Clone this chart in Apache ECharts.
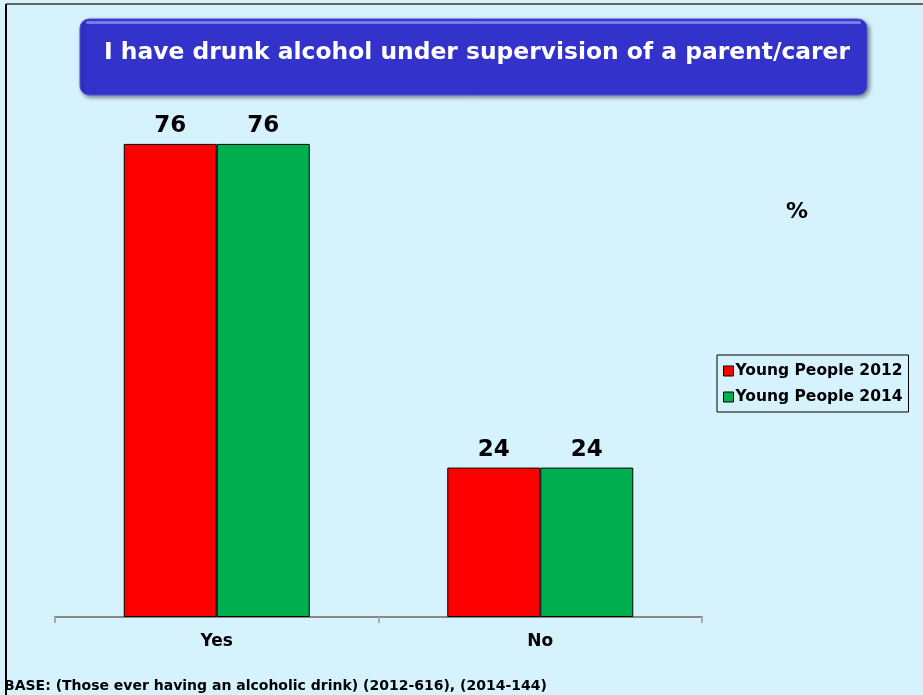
<!DOCTYPE html>
<html><head><meta charset="utf-8">
<script src="https://cdn.jsdelivr.net/npm/echarts@6/dist/echarts.min.js"></script>
<style>html,body{margin:0;padding:0;background:#d5f2fd;}#c{width:923px;height:695px;}</style>
</head><body><div id="c"></div>
<script>
const categories = ['Yes', 'No'];
const seriesNames = ['Young People 2012', 'Young People 2014'];
const values2012 = [76, 24];
const values2014 = [76, 24];
const titleText = 'I have drunk alcohol under supervision of a parent/carer';
const baseText = 'BASE: (Those ever having an alcoholic drink) (2012-616), (2014-144)';

const FONT = 'DejaVu Sans';
const chart = echarts.init(document.getElementById('c'), null, {renderer: 'canvas'});
const labelCfg = {show: true, position: 'top', distance: 6, color: '#000', fontFamily: FONT, fontWeight: 'bold', fontSize: 23};
chart.setOption({
  backgroundColor: '#d5f2fd',
  animation: false,
  grid: {left: 55, right: 221, top: 119, bottom: 78},
  xAxis: {
    type: 'category', data: categories,
    axisLine: {lineStyle: {color: '#888', width: 2}},
    axisTick: {show: true, length: 6, lineStyle: {color: '#aaa', width: 2}},
    axisLabel: {color: '#000', fontFamily: FONT, fontWeight: 'bold', fontSize: 17, margin: 16}
  },
  yAxis: {type: 'value', min: 0, max: 80, show: false, splitLine: {show: false}},
  legend: {
    show: true, orient: 'vertical', left: 717, top: 355, itemWidth: 10, itemHeight: 10, itemGap: 10,
    padding: [8, 6, 7, 6], backgroundColor: '#d5f2fd', borderColor: '#000', borderWidth: 1, borderRadius: 0,
    icon: 'rect',
    textStyle: {color: '#000', fontFamily: FONT, fontWeight: 'bold', fontSize: 15.5, padding: [0, 0, 0, -3]},
    data: seriesNames.map(n => ({name: n, itemStyle: {borderColor: '#000', borderWidth: 1}}))
  },
  series: [
    {name: seriesNames[0], type: 'bar', data: values2012, barWidth: 93, barGap: '0%',
     itemStyle: {color: '#ff0000', borderColor: '#000', borderWidth: 1}, label: labelCfg},
    {name: seriesNames[1], type: 'bar', data: values2014, barWidth: 93, barGap: '0%',
     itemStyle: {color: '#00b050', borderColor: '#000', borderWidth: 1}, label: labelCfg}
  ],
  graphic: [
    {type: 'line', shape: {x1: 6, y1: 4, x2: 923, y2: 4}, style: {stroke: '#666', lineWidth: 2}},
    {type: 'line', shape: {x1: 6, y1: 4, x2: 6, y2: 695}, style: {stroke: '#000', lineWidth: 2}},
    {type: 'rect', shape: {x: 80, y: 19, width: 787, height: 76, r: 9},
     style: {fill: '#3333cc', stroke: '#5555dd', lineWidth: 1, shadowBlur: 4, shadowOffsetX: 2, shadowOffsetY: 2, shadowColor: 'rgba(0,0,0,0.45)'}},
    {type: 'rect', shape: {x: 86, y: 21, width: 775, height: 3, r: 1.5}, style: {fill: '#7a7aee'}},
    {type: 'text', left: 104, top: 41, style: {text: titleText, fill: '#fff', font: 'bold 23.4px "DejaVu Sans"'}},
    {type: 'text', left: 786, top: 201, style: {text: '%', fill: '#000', font: 'bold 22px "DejaVu Sans"'}},
    {type: 'text', left: 4, top: 679, style: {text: baseText, fill: '#000', font: 'bold 14px "DejaVu Sans"'}}
  ]
});
</script></body></html>
